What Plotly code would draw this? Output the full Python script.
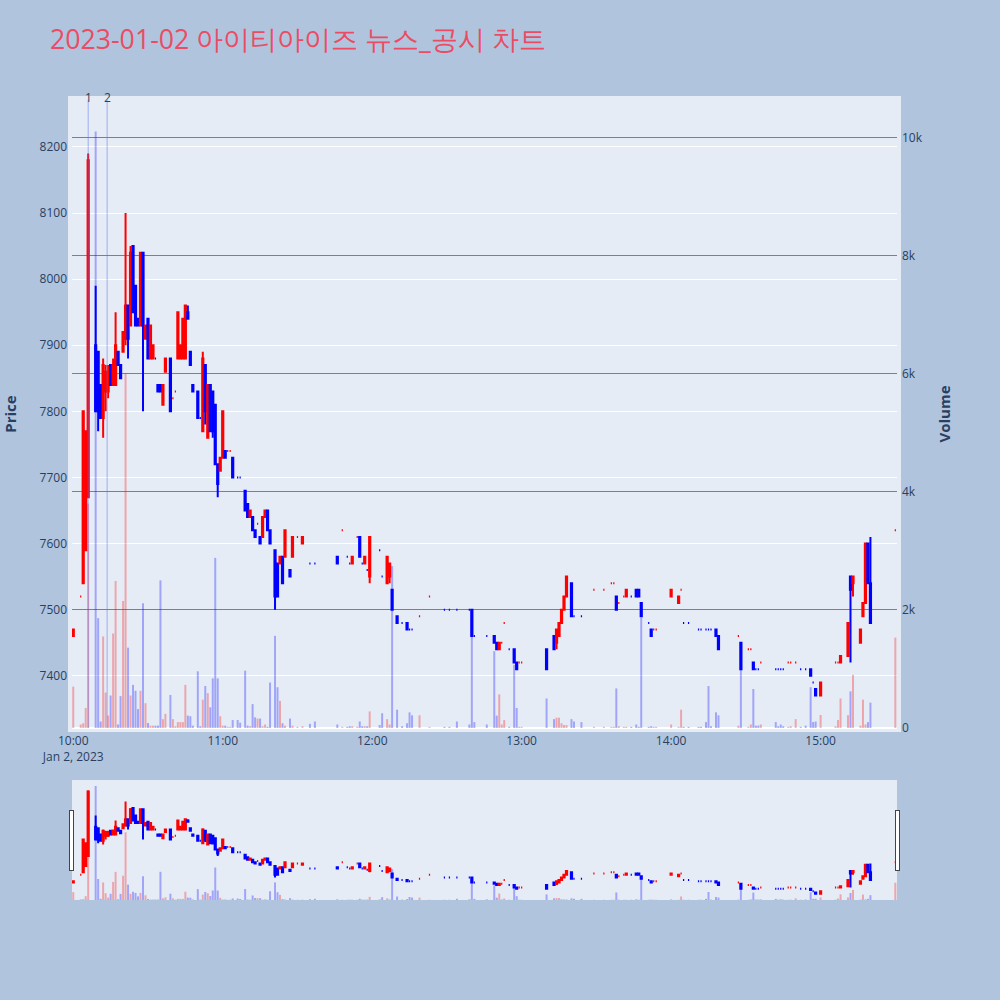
import plotly.graph_objects as go
import pandas as pd

date = "2023-01-02"
title_text = f"{date} 아이티아이즈 뉴스_공시 차트"

times = [
    "10:00", "10:03", "10:04", "10:05", "10:06", "10:09", "10:10", "10:11", "10:12", "10:13",
    "10:14", "10:15", "10:16", "10:17", "10:18", "10:19", "10:20", "10:21", "10:22", "10:23",
    "10:24", "10:25", "10:26", "10:27", "10:28", "10:29", "10:30", "10:31", "10:32", "10:33",
    "10:34", "10:35", "10:36", "10:37", "10:39", "10:40", "10:41", "10:42", "10:43", "10:44",
    "10:45", "10:46", "10:47", "10:48", "10:50", "10:51", "10:52", "10:53", "10:54", "10:55",
    "10:56", "10:57", "10:58", "10:59", "11:00", "11:01", "11:02", "11:03", "11:04", "11:06",
    "11:07", "11:09", "11:10", "11:11", "11:12", "11:13", "11:14", "11:15", "11:16", "11:17",
    "11:18", "11:19", "11:21", "11:22", "11:23", "11:24", "11:25", "11:27", "11:28", "11:30",
    "11:32", "11:35", "11:37", "11:46", "11:48", "11:50", "11:51", "11:52", "11:54", "11:55",
    "11:56", "11:57", "11:58", "11:59", "12:03", "12:04", "12:06", "12:07", "12:08", "12:10",
    "12:12", "12:14", "12:15", "12:16", "12:19", "12:23", "12:29", "12:31", "12:34", "12:39",
    "12:40", "12:41", "12:46", "12:49", "12:50", "12:51", "12:52", "12:53", "12:55", "12:57",
    "12:58", "12:59", "13:00", "13:10", "13:13", "13:14", "13:15", "13:16", "13:17", "13:18",
    "13:20", "13:21", "13:24", "13:29", "13:33", "13:36", "13:37", "13:38", "13:39", "13:41",
    "13:42", "13:44", "13:46", "13:47", "13:48", "13:51", "13:52", "13:53", "13:54", "14:00",
    "14:03", "14:04", "14:05", "14:07", "14:11", "14:12", "14:14", "14:15", "14:16", "14:18",
    "14:19", "14:27", "14:28", "14:31", "14:32", "14:33", "14:34", "14:35", "14:36", "14:42",
    "14:43", "14:44", "14:45", "14:47", "14:48", "14:50", "14:52", "14:54", "14:56", "14:57",
    "14:58", "15:00", "15:06", "15:07", "15:08", "15:11", "15:12", "15:13", "15:16", "15:17",
    "15:18", "15:19", "15:20", "15:30",
]

opens = [
    7460, 7520, 7540, 7590, 7670, 7900, 7890, 7840, 7790, 7830,
    7830, 7870, 7840, 7840, 7890, 7870, 7890, 7910, 7960, 7930,
    8050, 7990, 7940, 7930, 8040, 7910, 7940, 7880, 7880, 7880,
    7840, 7840, 7810, 7860, 7880, 7820, 7830, 7880, 7880, 7880,
    7880, 7950, 7890, 7840, 7830, 7790, 7770, 7870, 7760, 7840,
    7830, 7810, 7720, 7710, 7730, 7740, 7740, 7740, 7730, 7700,
    7700, 7680, 7660, 7640, 7640, 7620, 7630, 7610, 7610, 7640,
    7650, 7620, 7590, 7570, 7570, 7580, 7580, 7560, 7580, 7610,
    7600, 7570, 7570, 7580, 7620, 7580, 7570, 7570, 7610, 7610,
    7570, 7570, 7560, 7550, 7590, 7550, 7540, 7550, 7530, 7490,
    7480, 7480, 7470, 7470, 7490, 7520, 7500, 7500, 7500, 7500,
    7500, 7460, 7460, 7460, 7450, 7440, 7450, 7480, 7440, 7440,
    7420, 7420, 7420, 7440, 7460, 7450, 7460, 7480, 7500, 7520,
    7540, 7490, 7490, 7530, 7530, 7540, 7540, 7520, 7510, 7520,
    7520, 7520, 7530, 7530, 7510, 7480, 7470, 7470, 7470, 7520,
    7510, 7530, 7480, 7480, 7470, 7470, 7470, 7470, 7470, 7470,
    7460, 7460, 7450, 7440, 7440, 7420, 7410, 7410, 7420, 7410,
    7410, 7410, 7410, 7420, 7420, 7420, 7410, 7410, 7410, 7390,
    7380, 7370, 7420, 7420, 7420, 7430, 7550, 7540, 7450, 7490,
    7510, 7600, 7540, 7620,
]

highs = [
    7470, 7520, 7800, 7770, 8190, 7990, 7890, 7840, 7880, 7870,
    7870, 7870, 7880, 7950, 7890, 7870, 7920, 8100, 7960, 8050,
    8050, 7990, 7940, 8040, 8040, 7930, 7940, 7930, 7900, 7880,
    7840, 7840, 7840, 7880, 7880, 7820, 7830, 7950, 7900, 7940,
    7960, 7960, 7890, 7840, 7830, 7790, 7890, 7870, 7840, 7840,
    7830, 7810, 7720, 7730, 7800, 7740, 7740, 7740, 7730, 7700,
    7700, 7680, 7660, 7650, 7640, 7620, 7630, 7610, 7640, 7650,
    7650, 7620, 7590, 7570, 7580, 7580, 7620, 7560, 7610, 7610,
    7610, 7570, 7570, 7580, 7620, 7580, 7570, 7580, 7610, 7610,
    7570, 7580, 7560, 7610, 7590, 7550, 7580, 7570, 7530, 7490,
    7480, 7480, 7470, 7470, 7490, 7520, 7500, 7500, 7500, 7500,
    7500, 7460, 7460, 7460, 7450, 7450, 7450, 7480, 7440, 7440,
    7420, 7420, 7420, 7440, 7460, 7470, 7480, 7500, 7520, 7550,
    7540, 7490, 7490, 7530, 7530, 7540, 7540, 7520, 7510, 7520,
    7530, 7520, 7530, 7530, 7510, 7480, 7470, 7470, 7470, 7530,
    7520, 7530, 7480, 7480, 7470, 7470, 7470, 7470, 7470, 7470,
    7460, 7460, 7450, 7440, 7440, 7420, 7410, 7410, 7420, 7410,
    7410, 7410, 7410, 7420, 7420, 7420, 7410, 7410, 7410, 7390,
    7380, 7390, 7420, 7420, 7430, 7480, 7550, 7550, 7470, 7510,
    7600, 7600, 7610, 7620,
]

lows = [
    7460, 7520, 7540, 7590, 7670, 7800, 7770, 7790, 7760, 7800,
    7820, 7840, 7840, 7840, 7870, 7850, 7890, 7900, 7880, 7930,
    7950, 7930, 7930, 7930, 7800, 7910, 7880, 7880, 7880, 7880,
    7830, 7830, 7810, 7860, 7800, 7820, 7830, 7880, 7880, 7880,
    7880, 7940, 7870, 7830, 7790, 7790, 7770, 7780, 7760, 7770,
    7760, 7720, 7670, 7710, 7730, 7730, 7740, 7740, 7700, 7700,
    7700, 7650, 7640, 7640, 7620, 7610, 7630, 7600, 7610, 7640,
    7620, 7600, 7500, 7520, 7570, 7540, 7580, 7550, 7580, 7610,
    7600, 7570, 7570, 7570, 7620, 7580, 7570, 7570, 7610, 7580,
    7570, 7570, 7560, 7540, 7590, 7550, 7540, 7540, 7500, 7480,
    7480, 7470, 7470, 7470, 7490, 7520, 7500, 7500, 7500, 7500,
    7460, 7460, 7460, 7450, 7440, 7440, 7450, 7480, 7440, 7420,
    7410, 7420, 7420, 7410, 7440, 7440, 7460, 7480, 7500, 7520,
    7490, 7490, 7490, 7530, 7530, 7540, 7540, 7500, 7510, 7520,
    7520, 7520, 7520, 7520, 7490, 7480, 7460, 7470, 7470, 7520,
    7510, 7530, 7480, 7480, 7470, 7470, 7470, 7470, 7470, 7460,
    7440, 7460, 7410, 7440, 7440, 7410, 7410, 7410, 7420, 7410,
    7410, 7410, 7410, 7420, 7420, 7420, 7410, 7410, 7400, 7390,
    7370, 7370, 7420, 7420, 7420, 7430, 7420, 7520, 7450, 7490,
    7510, 7540, 7480, 7620,
]

closes = [
    7470, 7520, 7800, 7770, 8180, 7800, 7800, 7790, 7870, 7860,
    7860, 7840, 7870, 7900, 7870, 7850, 7920, 7960, 7910, 8040,
    7950, 7930, 7930, 8040, 7930, 7930, 7880, 7930, 7900, 7880,
    7830, 7830, 7840, 7880, 7800, 7820, 7830, 7950, 7900, 7940,
    7960, 7940, 7870, 7830, 7790, 7790, 7880, 7800, 7840, 7770,
    7770, 7720, 7690, 7730, 7800, 7730, 7740, 7740, 7700, 7700,
    7700, 7650, 7640, 7650, 7620, 7610, 7630, 7600, 7640, 7650,
    7620, 7600, 7520, 7520, 7580, 7540, 7620, 7550, 7610, 7610,
    7610, 7570, 7570, 7570, 7620, 7580, 7570, 7580, 7610, 7580,
    7570, 7580, 7560, 7610, 7590, 7550, 7580, 7570, 7500, 7480,
    7480, 7470, 7470, 7470, 7490, 7520, 7500, 7500, 7500, 7500,
    7460, 7460, 7460, 7450, 7440, 7450, 7450, 7480, 7440, 7420,
    7410, 7420, 7420, 7410, 7440, 7470, 7480, 7500, 7520, 7550,
    7490, 7490, 7490, 7530, 7530, 7540, 7540, 7500, 7510, 7520,
    7530, 7520, 7520, 7520, 7490, 7480, 7460, 7470, 7470, 7530,
    7520, 7530, 7480, 7480, 7470, 7470, 7470, 7470, 7470, 7460,
    7440, 7460, 7410, 7440, 7440, 7410, 7410, 7410, 7420, 7410,
    7410, 7410, 7410, 7420, 7420, 7420, 7410, 7410, 7400, 7390,
    7370, 7390, 7420, 7420, 7430, 7480, 7530, 7550, 7470, 7510,
    7600, 7540, 7480, 7620,
]

volumes = [
    700, 60, 80, 340, 3800, 10100, 1860, 110, 1550, 600,
    210, 550, 1600, 2490, 60, 540, 2150, 6000, 1360, 550,
    730, 630, 320, 630, 2110, 420, 85, 40, 40, 40,
    40, 2500, 150, 240, 560, 150, 30, 100, 100, 100,
    730, 210, 200, 40, 960, 30, 480, 710, 590, 350,
    840, 2880, 840, 200, 40, 40, 20, 20, 135, 135,
    90, 970, 40, 30, 405, 180, 160, 160, 30, 60,
    20, 770, 1560, 690, 460, 80, 40, 160, 40, 20,
    30, 70, 110, 60, 20, 20, 30, 30, 20, 110,
    30, 30, 30, 280, 50, 250, 150, 60, 2740, 310,
    30, 80, 265, 215, 215, 20, 20, 20, 110, 60,
    1990, 100, 60, 1300, 210, 570, 60, 135, 20, 1070,
    340, 20, 20, 500, 150, 175, 175, 80, 50, 50,
    150, 110, 100, 20, 20, 20, 20, 670, 30, 20,
    20, 20, 60, 20, 1870, 20, 30, 20, 20, 60,
    20, 310, 20, 20, 20, 20, 100, 710, 30, 265,
    215, 40, 1450, 20, 60, 660, 40, 40, 60, 100,
    30, 60, 30, 20, 30, 150, 20, 40, 690, 100,
    110, 220, 30, 135, 500, 215, 620, 900, 40, 480,
    60, 100, 430, 1530,
]

news_times = ["10:06", "10:13:36"]
news_labels = ["1", "2"]

x_start = f"{date} 09:59:30"
x_end = f"{date} 15:30:40"

x = pd.to_datetime([f"{date} {t}" for t in times])

# direction of each candle, following plotly's own rule for open == close
directions = []
prev_close = None
rising = True
for o, c in zip(opens, closes):
    if c == o:
        if prev_close is not None and c != prev_close:
            rising = c > prev_close
    else:
        rising = c > o
    prev_close = c
    directions.append(rising)

vol_colors = ["rgba(255,0,0,0.3)" if d else "rgba(0,0,255,0.3)" for d in directions]

fig = go.Figure()
fig.add_trace(go.Candlestick(
    x=x, open=opens, high=highs, low=lows, close=closes, name="Price",
    increasing=dict(line=dict(color="red"), fillcolor="red"),
    decreasing=dict(line=dict(color="blue"), fillcolor="blue"),
))
fig.add_trace(go.Bar(x=x, y=volumes, marker=dict(color=vol_colors, line=dict(width=0)),
                     yaxis="y2", name="Volume"))

for t, lab in zip(news_times, news_labels):
    xt = pd.Timestamp(f"{date} {t}")
    fig.add_vline(x=xt.timestamp() * 1000,
                  line=dict(color="rgba(90,110,235,0.5)", width=1))
    fig.add_annotation(x=xt, y=1, xref="x", yref="paper", text=lab, showarrow=False,
                       yanchor="middle", yshift=3, font=dict(size=12, color="#2a3f5f"))

fig.update_layout(
    width=1000, height=1000,
    paper_bgcolor="#B0C4DE", plot_bgcolor="#E5ECF6",
    title=dict(text=title_text, x=0.05, xanchor="left", y=0.96, yanchor="middle",
               font=dict(size=26.7, color="#EB4C64")),
    margin=dict(l=72, r=103, t=100, b=100, pad=4),
    showlegend=False,
    xaxis=dict(type="date", showgrid=False, range=[x_start, x_end],
               rangeslider=dict(visible=True, bgcolor="#E5ECF6", range=[x_start, x_end])),
    yaxis=dict(title=dict(text="<b>Price</b>", font=dict(size=15), standoff=24),
               automargin=False,
               range=[7321, 8271], dtick=100, gridcolor="white"),
    yaxis2=dict(title=dict(text="<b>Volume</b>", font=dict(size=15), standoff=21),
                automargin=False,
                overlaying="y", side="right", showgrid=True, gridcolor="gray"),
)

fig.write_html("out.html", config={"displayModeBar": False},
               post_script="document.body.style.margin='0';document.body.style.overflow='hidden';")
